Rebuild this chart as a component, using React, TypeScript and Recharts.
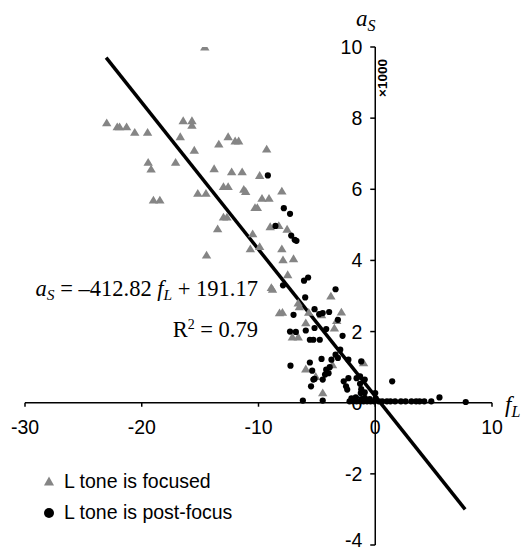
import {
  ScatterChart,
  Scatter,
  XAxis,
  YAxis,
  ReferenceLine,
  ReferenceDot,
} from "recharts";

/* ================= DATA ================= */

// f_L (x) and a_S x1000 (y)
const focused: [number, number][] = [
  [-23.0, 7.87], [-22.1, 7.76], [-21.9, 7.76], [-21.3, 7.76], [-20.6, 7.6],
  [-19.5, 7.6], [-16.45, 7.93], [-15.7, 7.93], [-15.7, 7.8], [-16.7, 7.48],
  [-15.5, 7.1], [-13.4, 7.27], [-12.6, 7.48], [-12.0, 7.36], [-11.7, 7.36],
  [-9.3, 7.13], [-19.45, 6.76], [-19.2, 6.57], [-17.1, 6.76], [-13.8, 6.58],
  [-12.3, 6.49], [-11.4, 6.49], [-9.9, 6.39], [-19.0, 5.7], [-18.45, 5.7],
  [-15.2, 5.89], [-14.5, 5.89], [-13.0, 6.08], [-12.6, 6.08], [-11.26, 6.0],
  [-11.1, 5.94], [-9.7, 5.75], [-9.1, 5.75], [-10.3, 5.49], [-10.1, 5.49],
  [-13.0, 5.22], [-12.7, 5.22], [-13.5, 4.89], [-10.5, 4.75], [-10.7, 4.33],
  [-14.45, 4.15], [-9.9, 4.39], [-14.6, 10.0], [-8.0, 5.95], [-9.0, 4.95],
  [-8.26, 4.98], [-7.55, 4.88], [-8.0, 4.33], [-7.9, 4.02], [-7.0, 4.05],
  [-7.5, 3.6], [-8.9, 3.24], [-8.8, 3.19], [-3.8, 3.0], [-6.6, 2.8],
  [-6.5, 2.7], [-8.2, 2.53], [-7.95, 2.54], [-5.7, 2.54], [-4.6, 2.47],
  [-2.9, 2.55], [-3.3, 2.31], [-3.5, 2.1], [-7.1, 1.85], [-6.6, 1.85],
  [-5.95, 2.25], [-5.95, 0.95], [-3.66, 1.07], [-1.0, 1.12], [-4.5, 0.28],
  [-5.1, 0.74],
];

const postFocus: [number, number][] = [
  [-9.2, 6.39], [-7.83, 5.47], [-7.3, 5.31], [-8.55, 4.97], [-7.2, 4.7],
  [-6.9, 4.58], [-6.75, 4.55], [-7.9, 3.3], [-6.1, 3.43], [-5.75, 3.52],
  [-6.0, 2.96], [-3.4, 3.19], [-7.0, 2.47], [-5.2, 2.63], [-4.8, 2.49],
  [-4.5, 2.52], [-3.95, 2.55], [-3.2, 2.33], [-7.3, 2.0], [-6.8, 1.99],
  [-5.95, 2.03], [-5.2, 2.1], [-5.6, 1.77], [-5.3, 1.77], [-4.75, 1.77],
  [-4.2, 2.07], [-2.8, 1.88], [-3.4, 1.35], [-3.0, 1.49], [-3.2, 1.26],
  [-3.75, 1.21], [-3.9, 1.0], [-4.6, 1.23], [-5.6, 1.13], [-7.26, 1.04],
  [-1.2, 1.16], [-2.3, 1.21], [-4.2, 0.93], [-4.3, 0.79], [-4.0, 0.83],
  [-5.3, 0.65], [-5.2, 0.67], [-4.5, 0.65], [-5.5, 0.46], [-5.4, 0.9],
  [-2.3, 0.69], [-2.5, 0.46], [-2.4, 0.37], [-1.6, 0.69], [-0.9, 0.65],
  [-1.3, 0.74], [-2.7, 0.6], [-1.3, 0.53], [-1.2, 0.38], [-0.9, 0.29],
  [-1.24, 0.27], [0.0, 0.27], [1.45, 0.6], [5.5, 0.15], [7.75, 0.02],
  [-6.2, 0.06], [-4.5, 0.06], [-2.04, 0.12], [-1.67, 0.15], [-1.18, 0.1],
  [-0.9, 0.14], [-0.47, 0.1], [0.04, 0.12],
  [-2.2, 0.04], [-1.9, 0.04], [-1.6, 0.04], [-1.3, 0.04], [-1.0, 0.04],
  [-0.7, 0.04], [-0.4, 0.04], [-0.1, 0.04], [0.3, 0.04], [0.6, 0.04],
  [1.0, 0.04], [1.3, 0.04], [1.7, 0.04], [2.2, 0.04], [2.6, 0.04],
  [3.1, 0.04], [3.5, 0.04], [3.8, 0.04], [4.2, 0.04], [4.8, 0.04],
];

// fitted line a_S = -412.82 f_L + 191.17, ends as drawn
const fitStart = { x: -23.05, y: 9.7 };
const fitEnd = { x: 7.7, y: -3.0 };

const xTicks = [-30, -20, -10, 0, 10];
const yTicks = [-4, -2, 0, 2, 4, 6, 8, 10];

/* ================= SHAPES ================= */

const GRAY = "#858585";
const SANS = "'Liberation Sans', Arial, sans-serif";
const SERIF = "'Liberation Serif', 'Times New Roman', serif";

const Triangle = (p: any) => (
  <polygon
    points={`${p.cx},${p.cy - 4.3} ${p.cx - 4.7},${p.cy + 3.5} ${p.cx + 4.7},${p.cy + 3.5}`}
    fill={GRAY}
  />
);

const Dot = (p: any) => <circle cx={p.cx} cy={p.cy} r={3.1} fill="#000" />;

const xTick = (t: number) => (p: any) => (
  <g>
    <line x1={p.cx} y1={p.cy} x2={p.cx} y2={p.cy + 4} stroke="#000" strokeWidth={1.5} />
    <text x={p.cx} y={p.cy + 31} textAnchor="middle" fontFamily={SANS} fontSize={19.5}>
      {t}
    </text>
  </g>
);

// the lowest label sits at the page edge, keep it inside
const yTick = (t: number) => (p: any) => (
  <g>
    <line x1={p.cx - 5} y1={p.cy} x2={p.cx} y2={p.cy} stroke="#000" strokeWidth={1.5} />
    <text
      x={p.cx - 13}
      y={Math.min(p.cy + 7, 547)}
      textAnchor="end"
      fontFamily={SANS}
      fontSize={19.5}
    >
      {t}
    </text>
  </g>
);

/* ================= COMPONENT ================= */

export default function App() {
  const fData = focused.map(([x, y]) => ({ x, y }));
  const pData = postFocus.map(([x, y]) => ({ x, y }));

  return (
    <div style={styles.page}>
      <ScatterChart
        width={527}
        height={552}
        margin={{ top: 47, right: 35, bottom: 7, left: 25 }}
      >
        <XAxis type="number" dataKey="x" domain={[-30, 10]} hide allowDataOverflow />
        <YAxis type="number" dataKey="y" domain={[-4, 10]} hide allowDataOverflow />

        <ReferenceLine y={0} stroke="#000" strokeWidth={1.5} />
        <ReferenceLine x={0} stroke="#000" strokeWidth={1.5} />
        {xTicks.map((t) => (
          <ReferenceDot key={"x" + t} x={t} y={0} r={0} shape={xTick(t)} />
        ))}
        {yTicks.map((t) => (
          <ReferenceDot key={"y" + t} x={0} y={t} r={0} shape={yTick(t)} />
        ))}

        <Scatter data={fData} shape={Triangle} isAnimationActive={false} />
        <Scatter data={pData} shape={Dot} isAnimationActive={false} />

        <ReferenceLine
          segment={[fitStart, fitEnd]}
          stroke="#000"
          strokeWidth={3.5}
          ifOverflow="visible"
        />
      </ScatterChart>

      {/* labels, equation and legend */}
      <svg width={527} height={552} style={styles.overlay}>
        <text x={356} y={26} fontFamily={SERIF} fontSize={23} fontStyle="italic">
          a<tspan fontSize={16} dy={5}>S</tspan>
        </text>
        <text
          transform="translate(387,78) rotate(-90)"
          textAnchor="middle"
          fontFamily={SANS}
          fontWeight="bold"
          fontSize={13.5}
        >
          ×1000
        </text>
        <text x={505} y={412} fontFamily={SERIF} fontSize={23} fontStyle="italic">
          f<tspan fontSize={16} dy={5}>L</tspan>
        </text>

        <text x={258} y={296} textAnchor="end" fontFamily={SERIF} fontSize={22.5}>
          <tspan fontStyle="italic">a</tspan>
          <tspan fontStyle="italic" fontSize={15.5} dy={4}>S</tspan>
          <tspan dy={-4}> = –412.82 </tspan>
          <tspan fontStyle="italic">f</tspan>
          <tspan fontStyle="italic" fontSize={15.5} dy={4}>L</tspan>
          <tspan dy={-4}> + 191.17</tspan>
        </text>
        <text x={258} y={337} textAnchor="end" fontFamily={SERIF} fontSize={22.5}>
          R<tspan fontSize={14} dy={-8}>2</tspan>
          <tspan dy={8}> = 0.79</tspan>
        </text>

        <polygon points="49,476.5 44,485.5 54,485.5" fill={GRAY} />
        <text x={64} y={488} fontFamily={SANS} fontSize={19.5}>
          L tone is focused
        </text>
        <circle cx={49} cy={513} r={5} fill="#000" />
        <text x={64} y={519} fontFamily={SANS} fontSize={19.5}>
          L tone is post-focus
        </text>
      </svg>
    </div>
  );
}

/* ================= STYLES ================= */

const styles: Record<string, React.CSSProperties> = {
  page: {
    position: "absolute",
    left: 0,
    top: 0,
    width: 527,
    height: 552,
    background: "#fff",
  },
  overlay: {
    position: "absolute",
    left: 0,
    top: 0,
    pointerEvents: "none",
  },
};
